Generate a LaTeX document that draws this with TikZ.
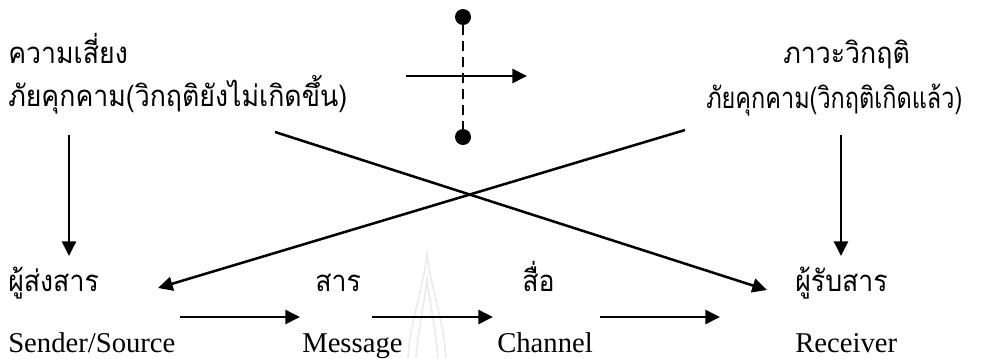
\documentclass[tikz,border=0pt]{standalone}
\usepackage{fontspec}
\setmainfont{Liberation Serif}
\newfontfamily\thai[Script=Thai]{Loma}
\usetikzlibrary{arrows.meta}
\newcommand{\thx}[2][0.91]{\scalebox{#1}[1]{#2}}
\tikzset{
  th/.style={anchor=base west, inner sep=0pt, font=\thai\fontsize{22pt}{26pt}\selectfont},
  en/.style={anchor=base west, inner sep=0pt, font=\fontsize{21.5pt}{26pt}\selectfont},
  arr/.style={line width=1.9pt, -{Triangle[length=11pt,width=10.5pt]}},
  dotm/.style={circle, fill=black, inner sep=0pt, minimum size=12pt},
  wmark/.style={draw=black!8, line width=1.2pt},
}
\begin{document}
\begin{tikzpicture}[x=0.75pt,y=-0.75pt]
\useasboundingbox (0,0) rectangle (1000,358);
% faint watermark
\draw[wmark] (408,358) .. controls (410,320) and (423,290) .. (427,254) .. controls (431,290) and (444,320) .. (446,358);
\draw[wmark] (416,358) .. controls (418,330) and (424,305) .. (427,280) .. controls (430,305) and (436,330) .. (438,358);
% texts
\node[th] (risk) at (8,63) {\thx{ความเสี่ยง}};
\node[th] (thrL) at (8,106) {\thx{ภัยคุกคาม(วิกฤติยังไม่เกิดขึ้น)}};
\node[th] (cris) at (783,63) {\thx{ภาวะวิกฤติ}};
\node[th] (thrR) at (706,108) {\thx[0.8]{ภัยคุกคาม(วิกฤติเกิดแล้ว)}};
\node[th] (send) at (8,291) {\thx{ผู้ส่งสาร}};
\node[th] (msg) at (315,291) {\thx{สาร}};
\node[th] (chan) at (522,291) {\thx{สื่อ}};
\node[th] (recv) at (795,291) {\thx{ผู้รับสาร}};
\node[en] (sendE) at (8,352) {Sender/Source};
\node[en] (msgE) at (302,352) {Message};
\node[en] (chanE) at (497,352) {Channel};
\node[en] (recvE) at (795,352) {Receiver};
% timeline
\node[dotm] (dtop) at (463,17) {};
\node[dotm] (dbot) at (463,137) {};
\draw[line width=1.6pt, dash pattern=on 7pt off 5pt] (dtop) -- (dbot);
\coordinate (tS) at (406,76);
\coordinate (tE) at (527,76);
\draw[arr] (tS) -- (tE);
% vertical arrows
\coordinate (vLs) at (69,135);
\coordinate (vLe) at (69,256);
\coordinate (vRs) at (841,135);
\coordinate (vRe) at (841,256);
\draw[arr] (vLs) -- (vLe);
\draw[arr] (vRs) -- (vRe);
% crossing
\coordinate (c1s) at (275,132);
\coordinate (c1e) at (767,290);
\coordinate (c2s) at (685,130);
\coordinate (c2e) at (158,288);
\draw[arr] (c1s) -- (c1e);
\draw[arr] (c2s) -- (c2e);
% bottom flow
\coordinate (b1s) at (180,317);
\coordinate (b1e) at (300,317);
\coordinate (b2s) at (372,317);
\coordinate (b2e) at (493,317);
\coordinate (b3s) at (600,317);
\coordinate (b3e) at (720,317);
\draw[arr] (b1s) -- (b1e);
\draw[arr] (b2s) -- (b2e);
\draw[arr] (b3s) -- (b3e);
\end{tikzpicture}
\end{document}
